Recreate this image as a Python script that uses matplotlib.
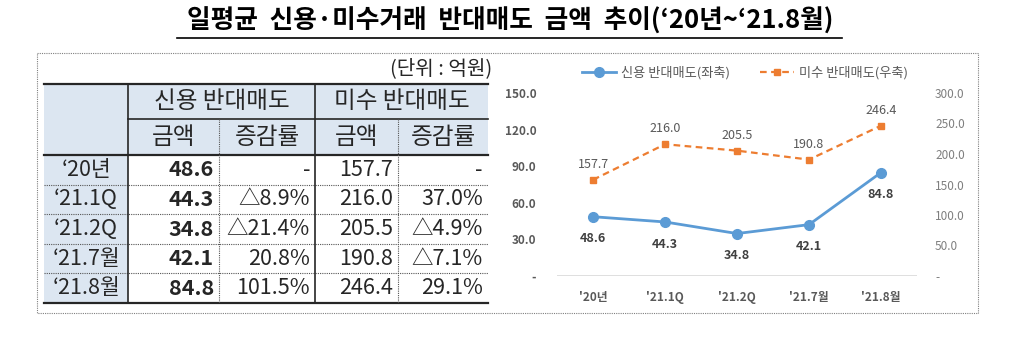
import matplotlib.pyplot as plt
from matplotlib.patches import Rectangle

plt.rcParams['font.family'] = ['Noto Sans CJK KR', 'DejaVu Sans']

# 기간별 일평균 반대매도 금액 (억원) 및 증감률 (%)
periods = ["\u201820년", "\u201821.1Q", "\u201821.2Q", "\u201821.7월", "\u201821.8월"]
chart_labels = ["'20년", "'21.1Q", "'21.2Q", "'21.7월", "'21.8월"]
credit_amt = [48.6, 44.3, 34.8, 42.1, 84.8]
credit_chg = [None, -8.9, -21.4, 20.8, 101.5]
margin_amt = [157.7, 216.0, 205.5, 190.8, 246.4]
margin_chg = [None, 37.0, -4.9, -7.1, 29.1]
left_ticks = [0, 30, 60, 90, 120, 150]
right_ticks = [0, 50, 100, 150, 200, 250, 300]

BLUE = "#5b9bd5"
ORANGE = "#ed7d31"
HEAD_BG = "#dce6f1"
DARK = "#262626"


def fmt_rate(v):
    if v is None:
        return "-"
    return ("\u25b3%.1f%%" % -v) if v < 0 else ("%.1f%%" % v)


def fmt_tick(v):
    return "-" if v == 0 else "%.1f" % v


fig = plt.figure(figsize=(10.24, 3.5), dpi=100)

# 픽셀 단위 좌표로 표와 제목을 그리는 오버레이 축
ov = fig.add_axes([0, 0, 1, 1])
ov.set_xlim(0, 1024)
ov.set_ylim(350, 0)
ov.axis("off")

title = "일평균  신용·미수거래  반대매도  금액  추이(\u201820년~\u201821.8월)"
ov.text(510, 21, title, ha="center", va="center", fontsize=18.5,
        fontweight="bold", color="black")
ov.plot([177, 842], [38, 38], color="black", lw=1.2)

# 바깥 점선 테두리
ov.add_patch(Rectangle((37, 53), 941, 260, fill=False, ec="#808080",
                       lw=0.8, ls=(0, (1, 1))))

# 표 영역
x_cols = [44, 128, 219, 315, 398, 488]
y_top, y_mid, y_head = 84, 119, 155
row_h = 29.6
y_rows = [y_head + i * row_h for i in range(len(periods) + 1)]
y_bot = y_rows[-1]

ov.add_patch(Rectangle((x_cols[0], y_top), x_cols[-1] - x_cols[0],
                       y_head - y_top, color=HEAD_BG, lw=0))
ov.add_patch(Rectangle((x_cols[0], y_head), x_cols[1] - x_cols[0],
                       y_bot - y_head, color=HEAD_BG, lw=0))

ov.text(492, 69, "(단위 : 억원)", ha="right", va="center", fontsize=14.5,
        color=DARK)

fs_head = 17
fs = 15.5
ov.text((x_cols[1] + x_cols[3]) / 2, (y_top + y_mid) / 2, "신용 반대매도",
        ha="center", va="center", fontsize=fs_head, color=DARK)
ov.text((x_cols[3] + x_cols[5]) / 2, (y_top + y_mid) / 2, "미수 반대매도",
        ha="center", va="center", fontsize=fs_head, color=DARK)
for i, h in enumerate(["금액", "증감률", "금액", "증감률"]):
    ov.text((x_cols[i + 1] + x_cols[i + 2]) / 2, (y_mid + y_head) / 2, h,
            ha="center", va="center", fontsize=fs_head, color=DARK)

for r, p in enumerate(periods):
    yc = (y_rows[r] + y_rows[r + 1]) / 2
    ov.text(86, yc, p, ha="center", va="center", fontsize=fs, color=DARK)
    cells = ["%.1f" % credit_amt[r], fmt_rate(credit_chg[r]),
             "%.1f" % margin_amt[r], fmt_rate(margin_chg[r])]
    for c, s in enumerate(cells):
        ov.text(x_cols[c + 2] - 5, yc, s, ha="right", va="center",
                fontsize=fs, color=DARK,
                fontweight="bold" if c == 0 else "normal")

# 표 괘선
ov.plot([x_cols[0], x_cols[-1]], [y_top, y_top], color=DARK, lw=1.6)
ov.plot([x_cols[1], x_cols[-1]], [y_mid, y_mid], color=DARK, lw=1.2)
ov.plot([x_cols[0], x_cols[-1]], [y_head, y_head], color=DARK, lw=1.6)
ov.plot([x_cols[0], x_cols[-1]], [y_bot, y_bot], color=DARK, lw=1.6)
for y in y_rows[1:-1]:
    ov.plot([x_cols[0], x_cols[-1]], [y, y], color="#555555", lw=0.8,
            ls=(0, (1, 1)))
for x in (x_cols[1], x_cols[3]):
    ov.plot([x, x], [y_top, y_bot], color=DARK, lw=1.2)
for x in (x_cols[2], x_cols[4]):
    ov.plot([x, x], [y_mid, y_bot], color="#555555", lw=0.8, ls=(0, (1, 1)))

# 선 그래프
ax = fig.add_axes([557 / 1024, 1 - 276 / 350, 360 / 1024, 183 / 350])
ax2 = ax.twinx()
xs = list(range(len(chart_labels)))

l1, = ax.plot(xs, credit_amt, color=BLUE, lw=2, marker="o", ms=7,
              label="신용 반대매도(좌축)", zorder=3)
l2, = ax2.plot(xs, margin_amt, color=ORANGE, lw=1.6, ls=(0, (3, 2)),
               marker="s", ms=4.5, label="미수 반대매도(우축)", zorder=3)

for x, v in zip(xs, credit_amt):
    ax.annotate("%.1f" % v, (x, v), xytext=(0, -16), textcoords="offset points",
                ha="center", va="center", fontsize=9, fontweight="bold",
                color="#404040")
for x, v in zip(xs, margin_amt):
    ax2.annotate("%.1f" % v, (x, v), xytext=(0, 11), textcoords="offset points",
                 ha="center", va="center", fontsize=9, color="#595959")

ax.set_xlim(-0.5, len(xs) - 0.5)
ax.set_ylim(0, 150)
ax2.set_ylim(0, 300)
ax.set_xticks(xs)
ax.set_xticklabels(chart_labels, fontsize=8.5, fontweight="bold",
                   color="#595959")
ax.set_yticks(left_ticks)
ax.set_yticklabels([fmt_tick(v) for v in left_ticks], fontsize=8.5,
                   fontweight="bold", color="#595959")
ax2.set_yticks(right_ticks)
ax2.set_yticklabels([fmt_tick(v) for v in right_ticks], fontsize=8.5,
                    color="#7f7f7f")
ax.tick_params(axis="x", length=0, pad=11)
ax.tick_params(axis="y", length=0, pad=15)
ax2.tick_params(axis="y", length=0, pad=13)

for a in (ax, ax2):
    for s in ("top", "left", "right", "bottom"):
        a.spines[s].set_visible(False)
    a.patch.set_visible(False)
ax.axhline(0, color="#d9d9d9", lw=1.2, zorder=1)

fig.legend(handles=[l1, l2], loc="center", bbox_to_anchor=(745 / 1024, 1 - 73 / 350),
           ncol=2, frameon=False, fontsize=9.5, labelcolor="#595959",
           handlelength=2.6, columnspacing=2.2, handletextpad=0.4)

fig.savefig("out.png", dpi=100, facecolor="white")
